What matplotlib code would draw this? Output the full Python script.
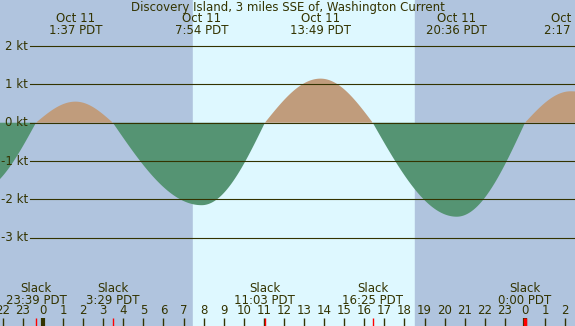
import matplotlib
matplotlib.use("Agg")
import matplotlib.pyplot as plt
import matplotlib.transforms as mtransforms
import numpy as np

# eventos da corrente (horas a partir de 0:00 de Oct 11, nós)
event_hours = [-3.3, -0.35, 1.62, 3.48, 7.9, 11.05, 13.82, 16.42, 20.6, 24.0, 26.28, 29.5]
event_speeds = [-1.8, 0.0, 0.55, 0.0, -2.15, 0.0, 1.15, 0.0, -2.45, 0.0, 0.82, 0.0]

# rótulos de máximos (topo) e de slack (base)
max_hours = [1.62, 7.9, 13.82, 20.6, 26.28]
max_labels = ["1:37 PDT", "7:54 PDT", "13:49 PDT", "20:36 PDT", "2:17 PDT"]
slack_hours = [-0.35, 3.48, 11.05, 16.42, 24.0]
slack_labels = ["23:39 PDT", "3:29 PDT", "11:03 PDT", "16:25 PDT", "0:00 PDT"]

# dia (nascer / pôr do sol)
sunrise, sunset = 7.47, 18.53

kt_levels = [2, 1, 0, -1, -2, -3]
hour_ticks = list(range(-2, 27))

title = "Discovery Island, 3 miles SSE of, Washington Current"

night_col = "#b0c4de"
day_col = "#def8ff"
flood_col = "#c09c7c"
ebb_col = "#559473"
ink = "#333300"


def current_curve(t):
    # forma de seno entre slack e máximo (como a curva de corrente desenhada)
    v = np.zeros_like(t)
    for k in range(len(event_hours) - 1):
        t0, t1 = event_hours[k], event_hours[k + 1]
        v0, v1 = event_speeds[k], event_speeds[k + 1]
        m = (t >= t0) & (t <= t1)
        s = (t[m] - t0) / (t1 - t0)
        if v0 == 0:
            v[m] = v1 * np.sin(np.pi / 2 * s)
        else:
            v[m] = v0 * np.cos(np.pi / 2 * s)
    return v


fig = plt.figure(figsize=(5.75, 3.26), dpi=100)
ax = fig.add_axes([0, 0, 1, 1])
ax.set_xlim(-2.14, 26.49)
ax.set_ylim(-5.30, 3.20)
ax.axis("off")

ax.axvspan(-5, sunrise, color=night_col, zorder=0)
ax.axvspan(sunrise, sunset, color=day_col, zorder=0)
ax.axvspan(sunset, 30, color=night_col, zorder=0)

t = np.linspace(-2.2, 26.6, 3000)
v = current_curve(t)
ax.fill_between(t, 0, v, where=v >= 0, color=flood_col, lw=0, zorder=1)
ax.fill_between(t, 0, v, where=v <= 0, color=ebb_col, lw=0, zorder=1)

for lvl in kt_levels:
    ax.axhline(lvl, xmin=30 / 575, xmax=1, color=ink, lw=0.8, zorder=2)
    ax.text(28 / 575, lvl, f"{lvl} kt", ha="right", va="center",
            fontsize=8.5, color=ink, transform=ax.get_yaxis_transform(), zorder=3)

# x em dados, y em fração da figura
tr = mtransforms.blended_transform_factory(ax.transData, ax.transAxes)


def ypx(p):
    return 1 - p / 326


ax.text(0.5, ypx(7), title, ha="center", va="center", fontsize=8.5,
        color=ink, transform=ax.transAxes)

for h, lab in zip(max_hours, max_labels):
    ax.text(h, ypx(19), "Oct 11", ha="center", va="center", fontsize=8.5, color=ink, transform=tr)
    ax.text(h, ypx(31), lab, ha="center", va="center", fontsize=8.5, color=ink, transform=tr)

for h, lab in zip(slack_hours, slack_labels):
    ax.text(h, ypx(288), "Slack", ha="center", va="center", fontsize=8.5, color=ink, transform=tr)
    ax.text(h, ypx(300), lab, ha="center", va="center", fontsize=8.5, color=ink, transform=tr)

for h in hour_ticks:
    ax.text(h, ypx(311), str(h % 24), ha="center", va="center", fontsize=8.5, color=ink, transform=tr)
    lw = 3 if h % 24 == 0 else 1
    ax.plot([h, h], [ypx(318), ypx(326)], color=ink, lw=lw, transform=tr,
            solid_capstyle="butt", zorder=3)

for h in slack_hours:
    lw = 2.5 if abs(h - 24.0) < 0.01 else 1
    ax.plot([h, h], [ypx(318), ypx(326)], color="red", lw=lw, transform=tr,
            solid_capstyle="butt", zorder=4)

fig.savefig("out.png", dpi=100)
